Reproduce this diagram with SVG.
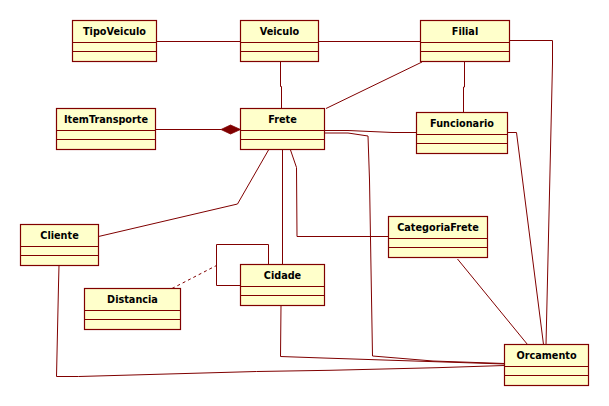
<svg xmlns="http://www.w3.org/2000/svg" width="609" height="406" viewBox="0 0 609 406">
<style>
.box{fill:#FFFFCB;stroke:#800000;stroke-width:1.2}
.div{stroke:#800000;stroke-width:1.2}
.lbl{font-family:"DejaVu Sans",Verdana,sans-serif;font-weight:bold;font-size:9.7px;fill:#000;text-anchor:middle}
.c{fill:none;stroke:#800000;stroke-width:1}
.dash{stroke-dasharray:3,3}
</style>
<rect width="609" height="406" fill="#fff"/>
<g id="connectors">
<path class="c" d="M156.5,41.5H240.5"/>
<path class="c" d="M318.5,41.5H420.5"/>
<path class="c" d="M280.5,61.5V86.5H281.5V108.5"/>
<path class="c" d="M155.5,129.5H221"/>
<polygon points="221,129.5 230.5,125 240.5,129.5 230.5,134" fill="#800000" stroke="#800000" stroke-width="0.8"/>
<path class="c" d="M422,62L326,108.5"/>
<path class="c" d="M464.5,61.5V87H463.5V112.5"/>
<path class="c" d="M509.5,40.5H552.5V63L546,344.5"/>
<path class="c" d="M324.5,130.5H348L393,132.5H416.5"/>
<path class="c" d="M324.5,133H348L368,136L369.5,180L372.5,356L433,361L504.5,363.5"/>
<path class="c" d="M507.5,132.5H516.5L543.5,344.5"/>
<path class="c" d="M268.5,150L237.5,204L98.5,236.5"/>
<path class="c" d="M282.5,149.5V264.5"/>
<path class="c" d="M290.5,150L296.5,167.5L297,236.5H388.5"/>
<path class="c" d="M457.5,259L527.5,344.5"/>
<path class="c" d="M281,305.5L280.5,356.5L323,358L504.5,364"/>
<path class="c" d="M59,265.5L58.5,285L56.5,376.5L78.5,376.5L256.5,371.5L330,370.3L437,367.7L504.5,365.5"/>
<path class="c" d="M268.5,264.5V244.5H216.5V285.5H240.5"/>
<path class="c dash" d="M172,288.5L216.5,265.5"/>
</g>
<g id="TipoVeiculo"><rect class="box" x="72.5" y="20.5" width="84" height="41"/><path class="div" d="M72.5,42.5h84M72.5,51.5h84"/><text class="lbl" x="114.5" y="35">TipoVeiculo</text></g>
<g id="Veiculo"><rect class="box" x="240.5" y="20.5" width="78" height="41"/><path class="div" d="M240.5,42.5h78M240.5,51.5h78"/><text class="lbl" x="279.5" y="35">Veiculo</text></g>
<g id="Filial"><rect class="box" x="420.5" y="20.5" width="89" height="41"/><path class="div" d="M420.5,42.5h89M420.5,51.5h89"/><text class="lbl" x="465" y="35">Filial</text></g>
<g id="ItemTransporte"><rect class="box" x="56.5" y="108.5" width="99" height="41"/><path class="div" d="M56.5,130.5h99M56.5,139.5h99"/><text class="lbl" x="106" y="123">ItemTransporte</text></g>
<g id="Frete"><rect class="box" x="240.5" y="108.5" width="84" height="41"/><path class="div" d="M240.5,130.5h84M240.5,139.5h84"/><text class="lbl" x="282.5" y="123">Frete</text></g>
<g id="Funcionario"><rect class="box" x="416.5" y="112.5" width="91" height="41"/><path class="div" d="M416.5,134.5h91M416.5,143.5h91"/><text class="lbl" x="462" y="127">Funcionario</text></g>
<g id="CategoriaFrete"><rect class="box" x="388.5" y="216.5" width="99" height="41"/><path class="div" d="M388.5,238.5h99M388.5,247.5h99"/><text class="lbl" x="438" y="231">CategoriaFrete</text></g>
<g id="Cliente"><rect class="box" x="20.5" y="224.5" width="78" height="41"/><path class="div" d="M20.5,246.5h78M20.5,255.5h78"/><text class="lbl" x="59.5" y="239">Cliente</text></g>
<g id="Cidade"><rect class="box" x="240.5" y="264.5" width="84" height="41"/><path class="div" d="M240.5,286.5h84M240.5,295.5h84"/><text class="lbl" x="282.5" y="279">Cidade</text></g>
<g id="Distancia"><rect class="box" x="84.5" y="288.5" width="96" height="41"/><path class="div" d="M84.5,310.5h96M84.5,319.5h96"/><text class="lbl" x="132.5" y="303">Distancia</text></g>
<g id="Orcamento"><rect class="box" x="504.5" y="344.5" width="84" height="41"/><path class="div" d="M504.5,366.5h84M504.5,375.5h84"/><text class="lbl" x="546.5" y="359">Orcamento</text></g>
</svg>
